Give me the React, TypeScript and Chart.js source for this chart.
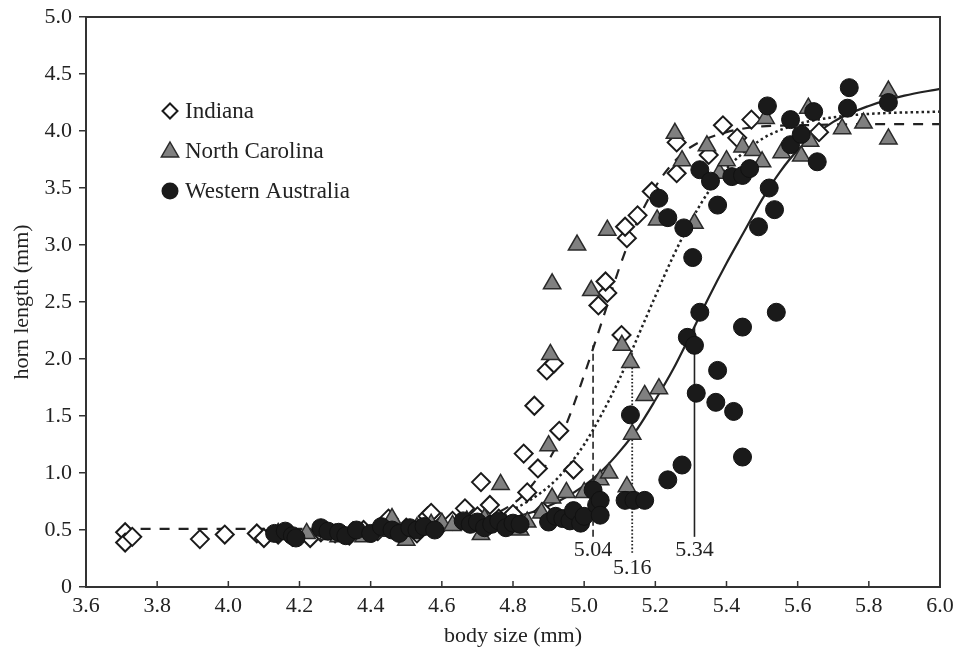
import React, { useEffect, useRef } from 'react';
import { Chart, registerables } from 'chart.js';

Chart.register(...registerables);

// ---- Axis ticks ----
const xTicks = [3.6, 3.8, 4.0, 4.2, 4.4, 4.6, 4.8, 5.0, 5.2, 5.4, 5.6, 5.8, 6.0];
const yTicks = [0, 0.5, 1.0, 1.5, 2.0, 2.5, 3.0, 3.5, 4.0, 4.5, 5.0];

// ---- Indiana (open diamonds) ----
const indianaSize = [
  3.71, 3.71, 3.73, 3.92, 3.99, 4.08, 4.10, 4.14, 4.18, 4.23, 4.26, 4.30, 4.34, 4.38, 4.42, 4.45,
  4.50, 4.53, 4.56, 4.57, 4.60, 4.63, 4.665, 4.70, 4.71, 4.735, 4.76, 4.80, 4.84, 4.885,
  4.83, 4.87, 4.97, 4.86, 4.93, 4.895, 4.915, 5.04, 5.065, 5.06, 5.105, 5.12, 5.115, 5.15, 5.19,
  5.26, 5.26, 5.35, 5.39, 5.43, 5.47, 5.66,
];
const indianaHorn = [
  0.48, 0.39, 0.44, 0.42, 0.46, 0.47, 0.43, 0.46, 0.44, 0.43, 0.48, 0.47, 0.45, 0.50, 0.49, 0.60,
  0.52, 0.47, 0.62, 0.65, 0.55, 0.58, 0.69, 0.62, 0.92, 0.72, 0.60, 0.64, 0.83, 0.66,
  1.17, 1.04, 1.03, 1.59, 1.37, 1.90, 1.96, 2.47, 2.58, 2.68, 2.21, 3.06, 3.16, 3.26, 3.47,
  3.63, 3.90, 3.79, 4.05, 3.94, 4.10, 3.99,
];

// ---- North Carolina (grey triangles) ----
const ncSize = [
  4.14, 4.22, 4.28, 4.31, 4.35, 4.38, 4.42, 4.46, 4.50, 4.53, 4.57, 4.60, 4.63, 4.67, 4.71, 4.72,
  4.78, 4.82, 4.84, 4.88, 4.91, 4.95, 4.975, 5.00, 5.045, 5.07, 5.12,
  4.765, 4.90, 4.905, 4.91, 4.98, 5.02, 5.065, 5.106, 5.13, 5.135, 5.17, 5.21, 5.205, 5.255, 5.275, 5.31,
  5.345, 5.38, 5.40, 5.445, 5.475, 5.50, 5.51, 5.555, 5.61, 5.63, 5.635, 5.725, 5.785, 5.855, 5.855,
];
const ncHorn = [
  0.47, 0.47, 0.46, 0.44, 0.48, 0.44, 0.49, 0.60, 0.41, 0.52, 0.55, 0.56, 0.54, 0.58, 0.46, 0.60,
  0.55, 0.50, 0.57, 0.65, 0.78, 0.83, 0.59, 0.83, 0.94, 1.00, 0.88,
  0.90, 1.24, 2.04, 2.66, 3.00, 2.60, 3.13, 2.12, 1.97, 1.34, 1.68, 1.74, 3.22, 3.98, 3.74, 3.19,
  3.87, 3.63, 3.74, 3.86, 3.83, 3.73, 4.11, 3.81, 3.78, 4.20, 3.91, 4.02, 4.07, 4.35, 3.93,
];

// ---- Western Australia (black circles) ----
const waSize = [
  4.13, 4.16, 4.18, 4.19, 4.26, 4.28, 4.31, 4.33, 4.36, 4.40, 4.43, 4.46, 4.48, 4.51, 4.53, 4.55,
  4.58, 4.66, 4.68, 4.70, 4.72, 4.74, 4.76, 4.78, 4.80, 4.82, 4.90, 4.92, 4.94, 4.96, 4.97, 4.99,
  5.00, 5.025, 5.035, 5.045, 5.045,
  5.115, 5.14, 5.17, 5.13, 5.235, 5.275, 5.29, 5.31, 5.315, 5.325, 5.37, 5.375, 5.42, 5.445, 5.445,
  5.54, 5.305, 5.28, 5.21, 5.235,
  5.325, 5.355, 5.415, 5.445, 5.465, 5.375, 5.49, 5.52, 5.535, 5.515, 5.58, 5.58, 5.61, 5.645,
  5.655, 5.74, 5.745, 5.855,
];
const waHorn = [
  0.47, 0.49, 0.45, 0.43, 0.52, 0.49, 0.48, 0.45, 0.50, 0.47, 0.53, 0.50, 0.47, 0.52, 0.50, 0.53,
  0.50, 0.58, 0.55, 0.57, 0.52, 0.55, 0.58, 0.52, 0.56, 0.55, 0.57, 0.62, 0.60, 0.58, 0.67, 0.56,
  0.62, 0.85, 0.72, 0.76, 0.63,
  0.76, 0.76, 0.76, 1.51, 0.94, 1.07, 2.19, 2.12, 1.70, 2.41, 1.62, 1.90, 1.54, 1.14, 2.28,
  2.41, 2.89, 3.15, 3.41, 3.24,
  3.66, 3.56, 3.60, 3.61, 3.67, 3.35, 3.16, 3.50, 3.31, 4.22, 4.10, 3.88, 3.97, 4.17,
  3.73, 4.20, 4.38, 4.25,
];

// ---- Fitted curves ----
const indianaCurveSize = [3.7, 4.4, 4.6, 4.7, 4.8, 4.85, 4.9, 4.95, 5.0, 5.05, 5.1, 5.15, 5.2, 5.25, 5.3, 5.4, 5.5, 5.6, 5.8, 6.0];
const indianaCurveHorn = [0.51, 0.51, 0.54, 0.59, 0.73, 0.88, 1.11, 1.43, 1.86, 2.33, 2.81, 3.21, 3.51, 3.72, 3.86, 3.99, 4.04, 4.05, 4.06, 4.06];

const ncCurveSize = [4.15, 4.4, 4.6, 4.7, 4.8, 4.9, 4.95, 5.0, 5.05, 5.1, 5.15, 5.2, 5.25, 5.3, 5.35, 5.4, 5.5, 5.6, 5.7, 5.8, 6.0];
const ncCurveHorn = [0.50, 0.51, 0.54, 0.58, 0.68, 0.88, 1.04, 1.25, 1.52, 1.83, 2.19, 2.55, 2.90, 3.21, 3.47, 3.67, 3.93, 4.06, 4.12, 4.15, 4.17];

const waCurveSize = [4.4, 4.6, 4.8, 4.9, 5.0, 5.05, 5.1, 5.15, 5.2, 5.25, 5.3, 5.35, 5.4, 5.45, 5.5, 5.55, 5.6, 5.7, 5.8, 5.9, 6.0];
const waCurveHorn = [0.51, 0.53, 0.61, 0.71, 0.89, 1.02, 1.19, 1.39, 1.64, 1.91, 2.22, 2.54, 2.84, 3.12, 3.40, 3.64, 3.83, 4.08, 4.22, 4.31, 4.37];

// ---- Threshold markers ----
const markerSize = [5.025, 5.135, 5.31];
const markerTop = [2.12, 2.06, 2.28];
const markerBottom = [0.44, 0.30, 0.44];
const markerLabels = ['5.04', '5.16', '5.34'];
const markerLabelHorn = [0.32, 0.165, 0.32];

const legendLabels = ['Indiana', 'North Carolina', 'Western Australia'];

const FONT = '"Liberation Serif", "Times New Roman", serif';
const INK = '#222';

const pts = (xs: number[], ys: number[]) => xs.map((x, i) => ({ x, y: ys[i] }));

const drawDiamond = (ctx: CanvasRenderingContext2D, cx: number, cy: number, r: number) => {
  ctx.beginPath();
  ctx.moveTo(cx, cy - r);
  ctx.lineTo(cx + r, cy);
  ctx.lineTo(cx, cy + r);
  ctx.lineTo(cx - r, cy);
  ctx.closePath();
  ctx.fillStyle = '#fff';
  ctx.fill();
  ctx.lineWidth = 2;
  ctx.strokeStyle = '#1a1a1a';
  ctx.stroke();
};
const drawTriangle = (ctx: CanvasRenderingContext2D, cx: number, cy: number, r: number) => {
  ctx.beginPath();
  ctx.moveTo(cx, cy - r);
  ctx.lineTo(cx + r * 0.866, cy + r * 0.5);
  ctx.lineTo(cx - r * 0.866, cy + r * 0.5);
  ctx.closePath();
  ctx.fillStyle = '#808080';
  ctx.fill();
  ctx.lineWidth = 1.5;
  ctx.strokeStyle = '#2a2a2a';
  ctx.stroke();
};
const drawCircle = (ctx: CanvasRenderingContext2D, cx: number, cy: number, r: number) => {
  ctx.beginPath();
  ctx.arc(cx, cy, r, 0, Math.PI * 2);
  ctx.fillStyle = '#1a1a1a';
  ctx.fill();
};

const decorPlugin = {
  id: 'decor',
  afterDatasetsDraw(chart: any) {
    const { ctx, chartArea: a, scales } = chart;
    const xs = scales.x;
    const ys = scales.y;
    ctx.save();
    // inward x ticks
    ctx.strokeStyle = '#333';
    ctx.lineWidth = 1.5;
    xTicks.forEach((v) => {
      const px = xs.getPixelForValue(v);
      ctx.beginPath();
      ctx.moveTo(px, a.bottom);
      ctx.lineTo(px, a.bottom - 6);
      ctx.stroke();
    });
    // frame
    ctx.lineWidth = 2;
    ctx.strokeStyle = '#333';
    ctx.strokeRect(a.left, a.top, a.right - a.left, a.bottom - a.top);
    // marker labels
    ctx.font = `22px ${FONT}`;
    ctx.fillStyle = INK;
    ctx.textAlign = 'center';
    ctx.textBaseline = 'middle';
    markerLabels.forEach((t, i) => {
      ctx.fillText(t, xs.getPixelForValue(markerSize[i]), ys.getPixelForValue(markerLabelHorn[i]));
    });
    // legend
    const lx = a.left + 84;
    const rows = [a.top + 94, a.top + 134, a.top + 174];
    drawDiamond(ctx, lx, rows[0], 7.5);
    drawTriangle(ctx, lx, rows[1] + 1, 10);
    drawCircle(ctx, lx, rows[2], 8.5);
    ctx.font = `23px ${FONT}`;
    ctx.fillStyle = INK;
    ctx.textAlign = 'left';
    ctx.textBaseline = 'middle';
    legendLabels.forEach((t, i) => ctx.fillText(t, lx + 15, rows[i] + 1));
    ctx.restore();
  },
};

export default function App() {
  const ref = useRef<HTMLCanvasElement | null>(null);
  useEffect(() => {
    if (!ref.current) return;
    const lineDs = (xs: number[], ys: number[], dash: number[], width: number, order: number, extra: any = {}) => ({
      type: 'line',
      data: pts(xs, ys),
      borderColor: '#222',
      borderWidth: width,
      borderDash: dash,
      pointRadius: 0,
      pointHoverRadius: 0,
      fill: false,
      showLine: true,
      order,
      ...extra,
    });
    const chart = new Chart(ref.current, {
      type: 'scatter',
      data: {
        datasets: [
          {
            label: 'Western Australia',
            data: pts(waSize, waHorn),
            pointStyle: 'circle',
            pointRadius: 9,
            backgroundColor: '#1a1a1a',
            borderColor: '#111',
            borderWidth: 1,
            order: 0,
          },
          {
            label: 'North Carolina',
            data: pts(ncSize, ncHorn),
            pointStyle: 'triangle',
            pointRadius: 10,
            backgroundColor: '#808080',
            borderColor: '#2a2a2a',
            borderWidth: 1.5,
            order: 1,
          },
          {
            label: 'Indiana',
            data: pts(indianaSize, indianaHorn),
            pointStyle: 'rectRot',
            pointRadius: 9,
            backgroundColor: '#ffffff',
            borderColor: '#1a1a1a',
            borderWidth: 2,
            order: 2,
          },
          lineDs(indianaCurveSize, indianaCurveHorn, [10, 9], 2.2, 3, { cubicInterpolationMode: 'monotone' }),
          lineDs(ncCurveSize, ncCurveHorn, [2.5, 3], 2.5, 4, { cubicInterpolationMode: 'monotone' }),
          lineDs(waCurveSize, waCurveHorn, [], 2.2, 5, { cubicInterpolationMode: 'monotone' }),
          lineDs([markerSize[0], markerSize[0]], [markerBottom[0], markerTop[0]], [7, 4], 1.6, 6),
          lineDs([markerSize[1], markerSize[1]], [markerBottom[1], markerTop[1]], [1.6, 2], 1.8, 7),
          lineDs([markerSize[2], markerSize[2]], [markerBottom[2], markerTop[2]], [], 1.6, 8),
        ] as any,
      },
      options: {
        animation: false,
        responsive: true,
        maintainAspectRatio: false,
        layout: { padding: { top: 17, right: 17, left: 0, bottom: 0 } },
        plugins: { legend: { display: false }, tooltip: { enabled: false } },
        scales: {
          x: {
            type: 'linear',
            min: 3.6,
            max: 6.0,
            afterBuildTicks: (s: any) => {
              s.ticks = xTicks.map((v) => ({ value: v }));
            },
            afterFit: (s: any) => {
              s.height = 66;
              s.paddingLeft = 0;
              s.paddingRight = 0;
            },
            grid: { display: false, drawTicks: false },
            border: { display: false },
            ticks: {
              font: { family: FONT, size: 22 },
              color: INK,
              padding: 6,
              maxRotation: 0,
              autoSkip: false,
              callback: (v: any) => Number(v).toFixed(1),
            },
            title: {
              display: true,
              text: 'body size (mm)',
              font: { family: FONT, size: 22 },
              color: INK,
              padding: { top: 0, bottom: 4 },
            },
          },
          y: {
            type: 'linear',
            min: 0,
            max: 5,
            afterBuildTicks: (s: any) => {
              s.ticks = yTicks.map((v) => ({ value: v }));
            },
            afterFit: (s: any) => {
              s.width = 86;
              s.paddingTop = 0;
              s.paddingBottom = 0;
            },
            grid: { drawOnChartArea: false, drawTicks: true, tickLength: 7, color: '#333', lineWidth: 1.5 },
            border: { display: false },
            ticks: {
              font: { family: FONT, size: 22 },
              color: INK,
              padding: 7,
              autoSkip: false,
              callback: (v: any) => (Number(v) === 0 ? '0' : Number(v).toFixed(1)),
            },
            title: {
              display: true,
              text: 'horn length (mm)',
              font: { family: FONT, size: 22 },
              color: INK,
              padding: { top: 9, bottom: 0 },
            },
          },
        },
      },
      plugins: [decorPlugin],
    });
    return () => chart.destroy();
  }, []);
  return (
    <div style={{ position: 'fixed', left: 0, top: 0, width: 957, height: 653, background: '#fff' }}>
      <canvas ref={ref} style={{ display: 'block' }} />
    </div>
  );
}
